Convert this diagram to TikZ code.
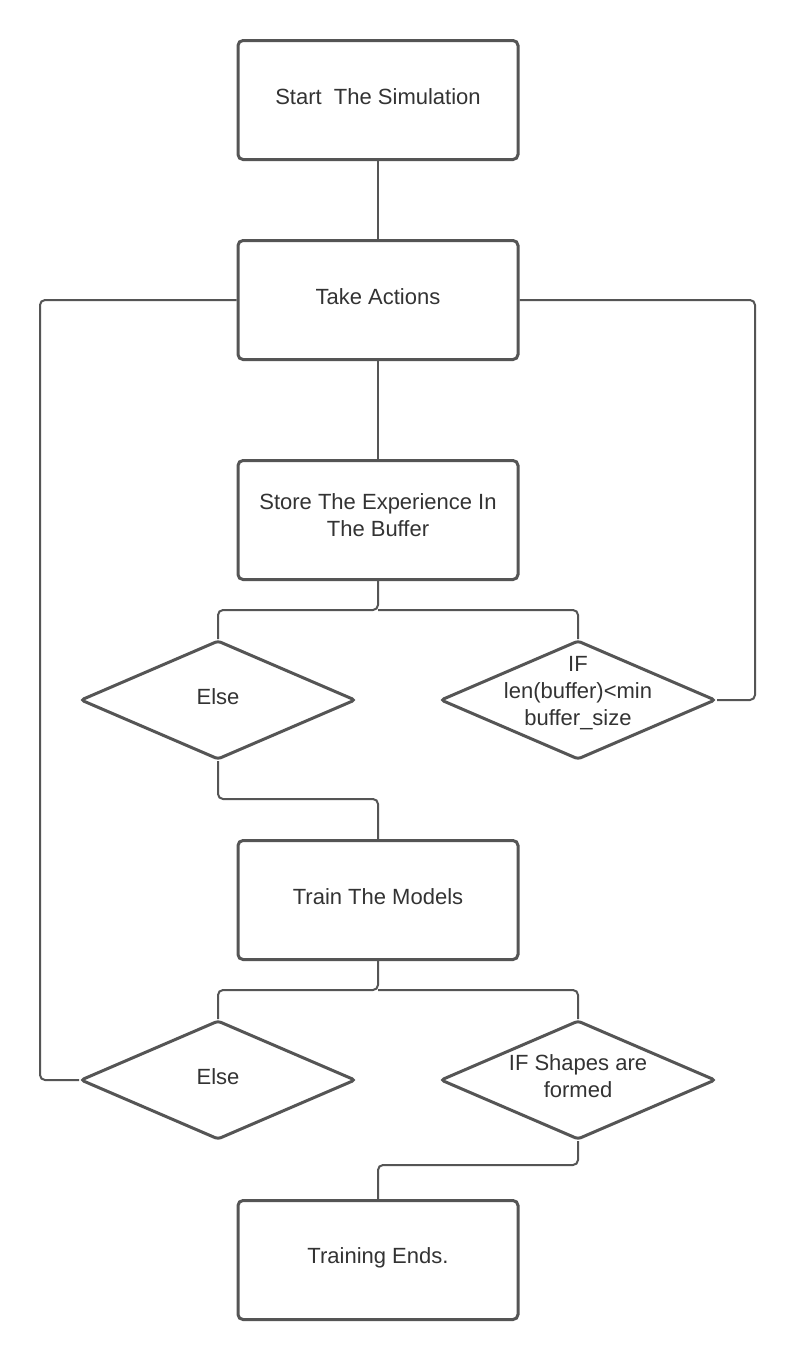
\documentclass[tikz,border=0pt]{standalone}
\usepackage{fontspec}
\setmainfont{Liberation Sans}
\usetikzlibrary{shapes.geometric}
\definecolor{edge}{HTML}{555555}
\definecolor{txt}{HTML}{333333}
\begin{document}
\begin{tikzpicture}[x=1pt,y=-1pt,
  lbl/.style={align=center,text=txt,font=\fontsize{22}{27}\selectfont,yshift=3pt},
  box/.style={draw=edge,line width=3pt,rounded corners=5pt,minimum width=280pt,minimum height=119pt,inner sep=0pt},
  dec/.style={draw=edge,line width=3pt,shape=diamond,rounded corners=3pt,minimum width=275pt,minimum height=119pt,inner sep=0pt},
  conn/.style={draw=edge,line width=2pt,rounded corners=5pt}]
\useasboundingbox (0,0) rectangle (795,1360);
\fill[white] (0,0) rectangle (795,1360);
\node[box,label={[lbl]center:{Start\ \ The Simulation}}] (start) at (378,100) {};
\node[box,label={[lbl]center:{Take Actions}}] (take) at (378,300) {};
\node[box,label={[lbl,yshift=2pt]center:{Store The Experience In\\The Buffer}}] (store) at (378,520) {};
\node[dec,label={[lbl]center:Else}] (else1) at (218,700) {};
\node[dec,label={[lbl,yshift=4pt]center:{IF\\len(buffer)<min\\buffer\_size}}] (if1) at (578,700) {};
\node[box,label={[lbl]center:{Train The Models}}] (train) at (378,900) {};
\node[dec,label={[lbl]center:Else}] (else2) at (218,1080) {};
\node[dec,label={[lbl,yshift=1pt]center:{IF Shapes are\\formed}}] (if2) at (578,1080) {};
\node[box,label={[lbl,yshift=-1pt]center:{Training Ends.}}] (ends) at (378,1260) {};
\coordinate (s1) at (378,610);
\coordinate (t1) at (378,990);
\draw[conn] (start.south) -- (take.north);
\draw[conn] (take.south) -- (store.north);
\draw[conn] (store.south) -- (s1) -| (else1.north);
\draw[conn] (s1) -| (if1.north);
\draw[conn] (if1.east) -- (755,700) |- (take.east);
\draw[conn] (else1.south) |- (378,799) -- (train.north);
\draw[conn] (train.south) -- (t1) -| (else2.north);
\draw[conn] (t1) -| (if2.north);
\draw[conn] (else2.west) -- (40,1080) |- (take.west);
\draw[conn] (if2.south) |- (378,1165) -- (ends.north);
\end{tikzpicture}
\end{document}
